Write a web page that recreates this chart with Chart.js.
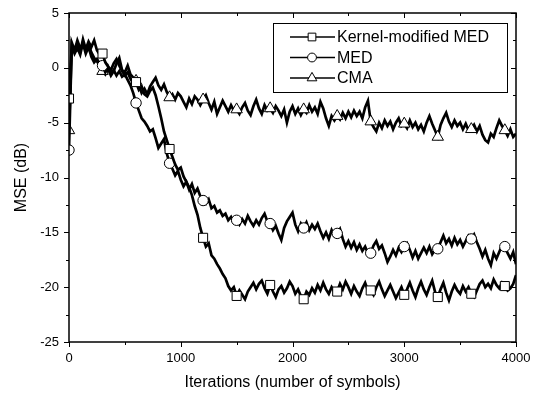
<!DOCTYPE html>
<html>
<head>
<meta charset="utf-8">
<script src="https://cdn.jsdelivr.net/npm/chart.js@4.4.0/dist/chart.umd.min.js"></script>
<style>
  html, body { margin: 0; padding: 0; background: #fff; }
  #wrap { width: 542px; height: 396px; }
</style>
</head>
<body>
<div id="wrap"><canvas id="chart" width="542" height="396"></canvas></div>
<script>
// sampling grid: one value every 25 iterations, 0..4000
const STEP = 25;
const MARK_EVERY = 12; // one marker every 300 iterations

const seriesNames = ['Kernel-modified MED', 'MED', 'CMA'];
const pointStyles = ['rect', 'circle', 'triangle'];

const kmedMse = [
  -2.8, 2.1, 1.5, 2.0, 1.4, 2.6, 1.7, 2.4, 1.9, 2.5, 1.6, 1.2,
  1.3, 0.5, 0.1, -0.2, 0.4, 0.8, 0.2, -0.3, -0.7, -0.4, -1.0, -1.4,
  -1.3, -2.0, -1.7, -2.4, -2.6, -2.1, -1.8, -2.5, -3.5, -4.6, -5.8, -6.6,
  -7.4, -8.1, -8.8, -9.3, -9.1, -9.9, -10.4, -10.9, -11.6, -12.6, -13.4, -14.6,
  -15.5, -16.3, -16.0, -17.1, -17.4, -17.9, -18.3, -18.8, -19.2, -19.9, -20.3, -20.0,
  -20.8, -20.3, -20.7, -21.1, -20.4, -20.0, -19.6, -20.2, -19.7, -19.4, -20.1, -20.6,
  -19.8, -20.4, -20.9, -20.2, -19.9, -20.5, -20.1, -19.5, -19.9, -20.6, -20.2, -20.8,
  -21.1, -20.4, -20.7, -20.1, -20.5, -19.8, -20.3, -19.6, -20.2, -20.6, -20.0, -20.4,
  -20.4, -19.7, -20.2, -19.5, -20.0, -20.6, -19.9, -20.4, -20.8, -20.1, -19.6, -20.3,
  -20.3, -20.7, -20.0, -19.5, -20.2, -20.8, -20.3, -19.8, -20.4, -21.0, -20.5, -20.0,
  -20.7, -20.2, -19.6, -20.3, -20.9, -20.1, -19.5, -20.2, -20.7, -20.0, -19.4, -20.4,
  -20.9, -20.2, -19.6, -20.5, -21.2, -20.4, -19.8, -20.3, -20.6, -19.9, -20.4, -20.0,
  -20.6, -20.9, -20.3, -19.7, -19.4, -20.0, -19.7, -20.1, -19.3, -19.8, -20.1, -19.6,
  -19.9, -20.3, -20.1, -19.7, -18.9
];

const medMse = [
  -7.5, 2.3, 1.6, 2.5, 1.8, 2.2, 1.3, 1.9, 1.0, 0.5, 0.8, 0.4,
  0.2, -0.4, 0.1, -0.5, -0.2, -0.7, -0.3, -0.8, -0.6, -1.1, -1.6, -2.3,
  -3.2, -3.9, -4.6, -4.9, -5.3, -5.8, -5.6, -6.4, -7.3, -6.9, -6.5, -7.8,
  -8.7, -9.2, -9.8, -9.4, -10.2, -10.8, -10.4, -11.1, -10.6, -11.4, -11.0, -11.7,
  -12.1, -12.4, -12.0, -12.8, -12.6, -13.2, -13.0, -13.5, -13.3, -13.9, -13.6, -14.1,
  -13.9, -14.3, -13.8, -14.2, -13.5, -14.0, -14.4, -13.9, -14.3, -13.7, -13.3, -14.0,
  -14.2, -14.8, -14.4, -15.1, -15.7, -14.6, -14.0, -13.6, -13.2, -14.3, -14.9, -14.2,
  -14.6, -14.1, -14.8, -14.3, -14.7, -14.2, -14.9, -15.5, -15.0, -15.6, -14.8, -15.3,
  -15.1, -14.7, -15.6, -16.3, -15.8, -16.4, -15.9, -16.6, -16.1, -16.7, -16.3, -16.9,
  -16.9, -16.2, -15.8, -16.5, -16.2, -16.9, -17.7, -17.2, -16.6, -17.1, -16.4, -16.8,
  -16.3, -16.0, -16.6, -17.3, -16.7, -17.4, -16.9, -16.4, -16.9, -16.3, -17.0, -16.6,
  -16.5, -15.9, -15.3, -16.0, -15.6, -16.2, -15.5, -16.1, -15.7, -16.3, -15.8, -15.3,
  -15.6, -15.2, -15.9, -16.5, -17.2, -16.6, -17.4, -18.0, -16.9, -17.4, -16.8, -16.2,
  -16.3, -16.9, -17.4, -16.8, -17.9
];

const cmaMse = [
  -5.7, 2.0, 1.3, 1.8, 1.2, 2.3, 1.6, 2.1, 1.4, 0.9, 0.6, 0.2,
  -0.3, -0.6, -0.1, -0.7, -0.3, 0.4, 0.9, -0.2, -0.4, 0.2, -0.6, -0.9,
  -1.2, -1.6, -2.3, -1.9, -2.4, -1.7, -1.3, -0.9, -1.6, -2.0, -1.5, -2.2,
  -2.7, -2.4, -2.9, -2.3, -2.6, -3.1, -3.6, -2.8, -3.3, -2.6, -2.9, -3.4,
  -2.9, -2.5, -3.2, -3.8, -3.1, -4.2, -3.6, -3.0, -3.5, -4.0, -3.4, -3.9,
  -3.8, -4.2, -3.6, -3.2, -3.9, -4.3, -3.5, -2.9, -3.7, -4.2, -3.4, -3.9,
  -3.7, -4.1, -3.5, -3.9, -4.4, -3.8, -5.0, -4.0, -3.5, -4.2, -3.7, -4.3,
  -3.8, -4.1, -3.4, -4.0, -3.6, -4.2, -3.1, -3.7, -4.6, -5.3, -4.4, -4.8,
  -4.4, -4.7, -4.1, -4.6, -4.0, -4.5, -3.9, -4.4, -4.0, -4.6, -3.6, -3.0,
  -4.9, -5.4, -5.8, -5.0, -5.5, -4.8, -5.3, -4.9, -5.6, -5.0, -4.6, -5.3,
  -5.1, -5.5, -4.8, -5.4, -5.0, -5.6, -5.2, -5.8, -5.0, -4.4, -5.1, -5.7,
  -6.3, -5.2, -4.6, -4.1, -4.9, -5.4, -4.8, -5.3, -5.0, -5.6, -5.1, -5.7,
  -5.6, -5.2, -5.8, -5.3, -6.1, -6.6, -6.8, -6.0, -6.3, -5.5, -4.8, -5.3,
  -5.7, -6.2, -5.6, -6.3, -6.0
];

const xTicks = [0, 1000, 2000, 3000, 4000];
const yTicks = [-25, -20, -15, -10, -5, 0, 5];

const iterations = kmedMse.map((_, i) => i * STEP);
const allSeries = [kmedMse, medMse, cmaMse];

const FONT = "'Liberation Sans', Arial, sans-serif";

const markerRadius = { rect: 6.4, circle: 5.2, triangle: 6.6 };

const datasets = allSeries.map((vals, k) => ({
  label: seriesNames[k],
  data: vals.map((v, i) => ({ x: iterations[i], y: v })),
  borderColor: '#000',
  borderWidth: 2.7,
  backgroundColor: '#fff',
  pointStyle: pointStyles[k],
  pointBackgroundColor: '#fff',
  pointBorderColor: '#000',
  pointBorderWidth: 1,
  pointRadius: ctx => (ctx.dataIndex % MARK_EVERY === 0 ? markerRadius[pointStyles[k]] : 0),
  pointHoverRadius: 0,
  tension: 0,
  fill: false
}));

// frame, minor/mirrored ticks, axis titles and legend box
const decorPlugin = {
  id: 'decor',
  afterDatasetsDraw(chart) {
    const { ctx, chartArea: a, scales: { x, y } } = chart;
    ctx.save();
    ctx.strokeStyle = '#000';
    ctx.lineWidth = 1;
    ctx.beginPath();
    for (let v = 0; v <= 4000; v += 500) {
      const px = Math.round(x.getPixelForValue(v)) + 0.5;
      const len = v % 1000 === 0 ? 5 : 3;
      ctx.moveTo(px, a.bottom); ctx.lineTo(px, a.bottom + len);
      ctx.moveTo(px, a.top); ctx.lineTo(px, a.top + len);
    }
    for (let v = -25; v <= 5; v += 2.5) {
      const py = Math.round(y.getPixelForValue(v)) + 0.5;
      const len = v % 5 === 0 ? 5 : 3;
      ctx.moveTo(a.left, py); ctx.lineTo(a.left - len, py);
      ctx.moveTo(a.right, py); ctx.lineTo(a.right - len, py);
    }
    ctx.stroke();
    ctx.lineWidth = 1.5;
    ctx.strokeRect(a.left, a.top, a.right - a.left, a.bottom - a.top);

    // axis titles
    ctx.fillStyle = '#000';
    ctx.font = '16px ' + FONT;
    ctx.textAlign = 'center';
    ctx.textBaseline = 'middle';
    ctx.fillText('Iterations (number of symbols)', (a.left + a.right) / 2, 383);
    ctx.save();
    ctx.translate(22, (a.top + a.bottom) / 2);
    ctx.rotate(-Math.PI / 2);
    ctx.fillText('MSE (dB)', 0, 0);
    ctx.restore();

    // legend
    const bx = 273, by = 23, bw = 234, bh = 69;
    ctx.fillStyle = '#fff';
    ctx.fillRect(bx, by, bw, bh);
    ctx.lineWidth = 1;
    ctx.strokeRect(bx + 0.5, by + 0.5, bw, bh);
    const rows = [37, 57.5, 78];
    seriesNames.forEach((name, k) => {
      const ry = rows[k];
      ctx.strokeStyle = '#000';
      ctx.lineWidth = 1.3;
      ctx.beginPath();
      ctx.moveTo(290, ry); ctx.lineTo(335, ry);
      ctx.stroke();
      ctx.lineWidth = 1;
      ctx.fillStyle = '#fff';
      Chart.helpers.drawPoint(ctx, {
        pointStyle: pointStyles[k],
        radius: markerRadius[pointStyles[k]] * 0.85,
        borderWidth: 1
      }, 312, ry);
      ctx.fillStyle = '#000';
      ctx.font = '16px ' + FONT;
      ctx.textAlign = 'left';
      ctx.textBaseline = 'middle';
      ctx.fillText(name, 337, ry + 1);
    });
    ctx.restore();
  }
};

new Chart(document.getElementById('chart'), {
  type: 'line',
  data: { datasets },
  options: {
    responsive: false,
    animation: false,
    events: [],
    layout: { padding: { top: 13, right: 26, left: 0, bottom: 0 } },
    plugins: { legend: { display: false }, tooltip: { enabled: false } },
    scales: {
      x: {
        type: 'linear',
        min: 0,
        max: 4000,
        afterBuildTicks: s => { s.ticks = xTicks.map(v => ({ value: v })); },
        afterFit: s => { s.height = 54; },
        grid: { display: false, drawTicks: true, tickLength: 5 },
        border: { display: false },
        ticks: {
          color: '#000', padding: 4, maxRotation: 0,
          font: { family: FONT, size: 13 },
          callback: v => String(v)
        }
      },
      y: {
        type: 'linear',
        min: -25,
        max: 5,
        afterBuildTicks: s => { s.ticks = yTicks.map(v => ({ value: v })); },
        afterFit: s => { s.width = 69; },
        grid: { display: false, drawTicks: true, tickLength: 5 },
        border: { display: false },
        ticks: {
          color: '#000', padding: 5,
          font: { family: FONT, size: 13 },
          callback: v => String(v)
        }
      }
    }
  },
  plugins: [decorPlugin]
});
</script>
</body>
</html>
